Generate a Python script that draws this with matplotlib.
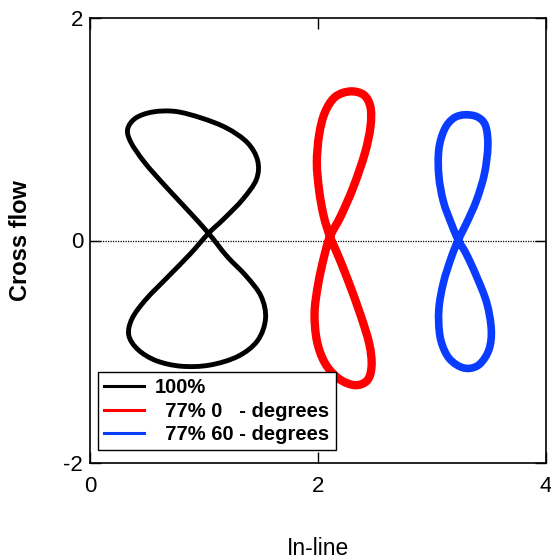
import numpy as np
import matplotlib
matplotlib.use("Agg")
import matplotlib.pyplot as plt
from matplotlib.path import Path
from matplotlib.patches import PathPatch
from matplotlib.lines import Line2D

plt.rcParams['font.family'] = ['Liberation Sans', 'DejaVu Sans']
plt.rcParams['axes.unicode_minus'] = False

# orbit samples (in-line, cross-flow), one figure-eight cycle each
x_100 = [1.04, 0.86, 0.66, 0.48, 0.36, 0.33, 0.40, 0.55, 0.75, 0.98, 1.20, 1.38, 1.47, 1.46, 1.34, 1.18,
         1.04, 0.88, 0.68, 0.49, 0.37, 0.34, 0.42, 0.58, 0.80, 1.05, 1.30, 1.47, 1.54, 1.50, 1.37, 1.20]
y_100 = [0.065, 0.27, 0.49, 0.70, 0.88, 1.00, 1.10, 1.155, 1.16, 1.10, 1.01, 0.88, 0.72, 0.55, 0.37, 0.20,
         0.065, -0.12, -0.33, -0.53, -0.70, -0.85, -0.98, -1.08, -1.13, -1.12, -1.04, -0.90, -0.70, -0.50, -0.32, -0.14]

x_77_0 = [2.105, 2.05, 2.01, 1.99, 2.01, 2.06, 2.15, 2.28, 2.40, 2.46, 2.46, 2.41, 2.31, 2.20,
          2.105, 2.05, 2.00, 1.97, 1.99, 2.06, 2.18, 2.32, 2.43, 2.47, 2.45, 2.37, 2.26, 2.17]
y_77_0 = [0.035, 0.22, 0.45, 0.70, 0.95, 1.15, 1.29, 1.34, 1.31, 1.20, 1.02, 0.78, 0.48, 0.22,
          0.035, -0.16, -0.40, -0.65, -0.90, -1.10, -1.24, -1.30, -1.26, -1.13, -0.93, -0.66, -0.35, -0.12]

x_77_60 = [3.23, 3.17, 3.10, 3.06, 3.06, 3.11, 3.19, 3.29, 3.40, 3.47, 3.49, 3.46, 3.39, 3.30,
           3.23, 3.17, 3.10, 3.06, 3.07, 3.13, 3.22, 3.32, 3.42, 3.50, 3.52, 3.48, 3.39, 3.30]
y_77_60 = [0.005, 0.15, 0.35, 0.58, 0.82, 1.00, 1.10, 1.13, 1.11, 1.03, 0.85, 0.60, 0.36, 0.15,
           0.005, -0.15, -0.38, -0.62, -0.86, -1.03, -1.12, -1.15, -1.11, -0.98, -0.80, -0.56, -0.32, -0.12]

labels = ['100%', '  77% 0   - degrees', '  77% 60 - degrees']
colors = ['black', '#ff0000', '#0a3cff']
widths = [3.5, 6.0, 5.5]


def loop_path(xs, ys):
    # closed smooth curve through the samples (Catmull-Rom as cubic Bezier)
    p = np.column_stack([xs, ys])
    n = len(p)
    verts = [p[0]]
    codes = [Path.MOVETO]
    for i in range(n):
        p0, p1, p2, p3 = p[i - 1], p[i], p[(i + 1) % n], p[(i + 2) % n]
        verts += [p1 + (p2 - p0) / 6, p2 - (p3 - p1) / 6, p2]
        codes += [Path.CURVE4] * 3
    return Path(verts, codes)


fig = plt.figure(figsize=(5.51, 5.59), dpi=100)
ax = fig.add_axes([90 / 551, 96 / 559, 456 / 551, 445 / 559])

ax.axhline(0, color='black', lw=0.9, ls=(0, (1, 1)), zorder=1)

series = [(x_100, y_100), (x_77_0, y_77_0), (x_77_60, y_77_60)]
handles = []
for (xs, ys), lab, c, w in zip(series, labels, colors, widths):
    ax.add_patch(PathPatch(loop_path(xs, ys), fill=False, edgecolor=c, lw=w,
                           joinstyle='round', zorder=2))
    handles.append(Line2D([], [], color=c, lw=2.2, label=lab))

ax.set_xlim(0, 4)
ax.set_ylim(-2, 2)
ax.set_xticks([0, 2, 4])
ax.set_yticks([-2, 0, 2])
ax.tick_params(direction='in', length=8, width=1, labelsize=16,
               top=True, right=True)
ax.tick_params(axis='x', pad=9)
ax.tick_params(axis='y', pad=5)
for s in ax.spines.values():
    s.set_linewidth(1.2)

ax.set_xlabel('In-line', fontsize=16.5)
ax.xaxis.set_label_coords(0.5, -0.166)
ax.set_ylabel('Cross flow', fontsize=17, fontweight='bold')
ax.yaxis.set_label_coords(-0.152, 0.5)
ax.yaxis.label.set_va('center')

leg = ax.legend(handles=handles, loc='lower left', bbox_to_anchor=(0.0175, 0.029),
                borderaxespad=0, frameon=True, fancybox=False, framealpha=1,
                edgecolor='black', prop={'weight': 'bold', 'size': 14.5},
                handlelength=2.0, handletextpad=0.5, labelspacing=0.22,
                borderpad=0.3)
leg.get_frame().set_linewidth(1.0)

fig.savefig('out.png', dpi=100)
